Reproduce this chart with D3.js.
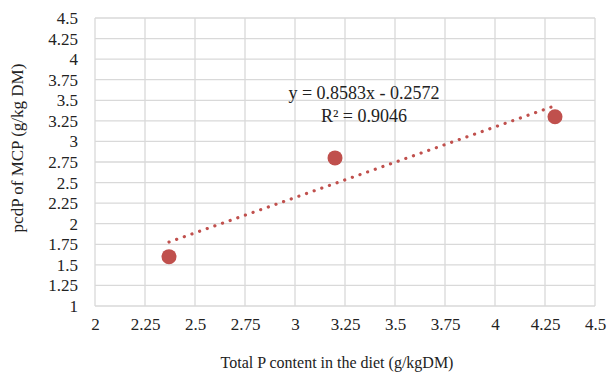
<!DOCTYPE html>
<html>
<head>
<meta charset="utf-8">
<script src="https://cdn.jsdelivr.net/npm/d3@7"></script>
<style>
  body { margin: 0; background: #fff; }
  text { font-family: "Liberation Serif", "Times New Roman", serif; fill: #222; }
</style>
</head>
<body>
<svg id="chart"></svg>
<script>
const dietP = [2.37, 3.2, 4.3];
const pcdP = [1.6, 2.8, 3.3];
const xTicks = [2, 2.25, 2.5, 2.75, 3, 3.25, 3.5, 3.75, 4, 4.25, 4.5];
const yTicks = [1, 1.25, 1.5, 1.75, 2, 2.25, 2.5, 2.75, 3, 3.25, 3.5, 3.75, 4, 4.25, 4.5];
const slope = 0.8583, intercept = -0.2572;
const eqText = "y = 0.8583x - 0.2572";
const r2Text = "R² = 0.9046";

const W = 607, H = 374;
const margin = {top: 18, right: 12, bottom: 68, left: 95},
  width = W - margin.left - margin.right,
  height = H - margin.top - margin.bottom;

const svg = d3.select("#chart").attr("width", W).attr("height", H);
const g = svg.append("g").attr("transform", "translate(" + margin.left + "," + margin.top + ")");

const x = d3.scaleLinear().domain([2, 4.5]).range([0, width]);
const y = d3.scaleLinear().domain([1, 4.5]).range([height, 0]);

// gridlines
g.selectAll(".vgrid").data(xTicks).enter().append("line")
  .attr("x1", d => x(d)).attr("x2", d => x(d))
  .attr("y1", 0).attr("y2", height)
  .style("stroke", "#d9d9d9").style("stroke-width", 1.3);
g.selectAll(".hgrid").data(yTicks).enter().append("line")
  .attr("x1", 0).attr("x2", width)
  .attr("y1", d => y(d)).attr("y2", d => y(d))
  .style("stroke", "#d9d9d9").style("stroke-width", 1.3);

// axes (labels only)
const xAxis = g.append("g")
  .attr("transform", "translate(0," + height + ")")
  .call(d3.axisBottom(x).tickValues(xTicks).tickFormat(d3.format("")).tickSize(0).tickPadding(12));
const yAxis = g.append("g")
  .call(d3.axisLeft(y).tickValues(yTicks).tickFormat(d3.format("")).tickSize(0).tickPadding(17));
[xAxis, yAxis].forEach(a => {
  a.attr("font-size", 17).attr("font-family", "Liberation Serif, serif");
  a.select(".domain").remove();
  a.selectAll("text").style("font-size", "17px").style("fill", "#222");
});

// trendline
const ext = d3.extent(dietP);
const trend = [ext[0], ext[1]].map(v => ({x: v, y: slope * v + intercept}));
g.append("path")
  .datum(trend)
  .attr("d", d3.line().x(d => x(d.x)).y(d => y(d.y)))
  .style("fill", "none")
  .style("stroke", "#c0504d")
  .style("stroke-width", 3.2)
  .style("stroke-linecap", "round")
  .style("stroke-dasharray", "0.1 8");

// points
g.selectAll(".pt").data(dietP).enter().append("circle")
  .attr("cx", d => x(d))
  .attr("cy", (d, i) => y(pcdP[i]))
  .attr("r", 7.5)
  .style("fill", "#c0504d");

// equation label
g.append("text").attr("x", x(3.345)).attr("y", y(3.51)).attr("text-anchor", "middle")
  .style("font-size", "18px").text(eqText);
g.append("text").attr("x", x(3.345)).attr("y", y(3.24)).attr("text-anchor", "middle")
  .style("font-size", "18px").text(r2Text);

// axis titles
svg.append("text").attr("x", margin.left + width / 2 - 8).attr("y", 368)
  .attr("text-anchor", "middle").style("font-size", "16px")
  .text("Total P content in the diet (g/kgDM)");
svg.append("text").attr("transform", "translate(23,148) rotate(-90)")
  .attr("text-anchor", "middle").style("font-size", "17px")
  .text("pcdP of MCP (g/kg DM)");
</script>
</body>
</html>
